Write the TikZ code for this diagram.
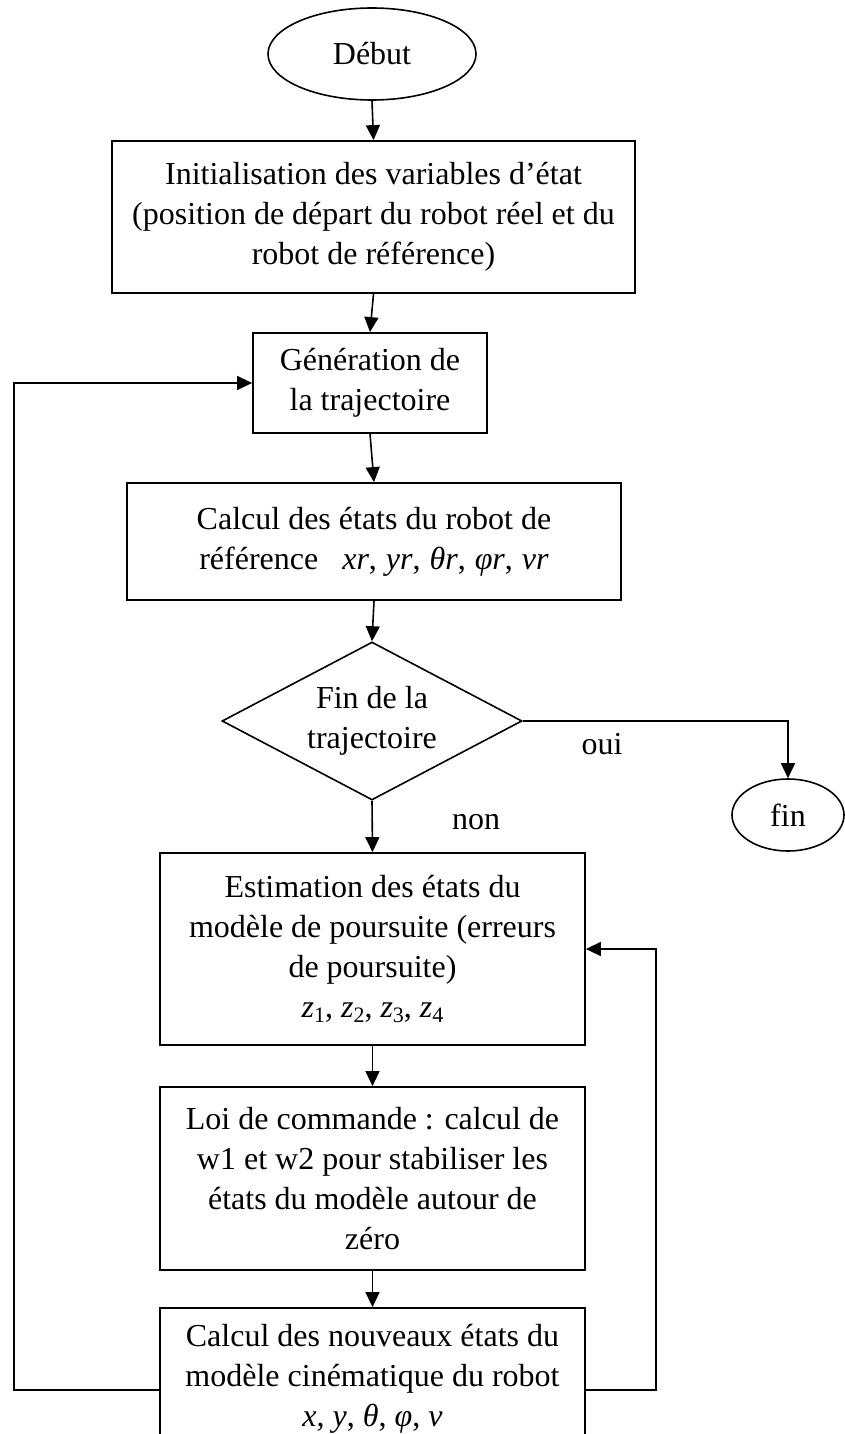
\documentclass[tikz,border=0pt]{standalone}
\usepackage{fontspec}
\setmainfont{Liberation Serif}
\usetikzlibrary{shapes.geometric,arrows.meta,calc}
\newcommand{\zsub}[2]{\textit{#1}\raisebox{-5pt}{\fontsize{22}{22}\selectfont #2}}
\begin{document}
\begin{tikzpicture}[x=1pt,y=-1pt,
  every node/.style={font=\fontsize{32}{40}\selectfont, align=center, inner sep=0pt},
  box/.style={draw, line width=1.8pt, rectangle},
  term/.style={draw, line width=1.6pt, ellipse},
  dec/.style={draw, line width=1.6pt, diamond, aspect=1.9},
  arr/.style={line width=1.6pt, -{Triangle[length=15pt,width=14pt]}}]
\clip (0,0) rectangle (845,1434);
\node[term, minimum width=208pt, minimum height=92pt] (debut) at (372,54) {Début};
\node[box, minimum width=523pt, minimum height=152pt] (init) at (373.5,217)
  {Initialisation des variables d’état\\(position de départ du robot réel et du\\robot de référence)};
\node[box, minimum width=234pt, minimum height=100pt] (gen) at (370,383)
  {Génération de\\la trajectoire};
\node[box, minimum width=494pt, minimum height=117pt] (calc) at (374,541.5)
  {Calcul des états du robot de\\référence\hspace{24pt}\textit{xr},\hspace{9pt}\textit{yr},\hspace{9pt}\textit{θr},\hspace{9pt}\textit{φr},\hspace{9pt}\textit{vr}};
\node[dec, minimum width=300pt, minimum height=158pt] (test) at (372,721)
  {Fin de la\\trajectoire};
\node[term, minimum width=112pt, minimum height=72pt] (fin) at (788,815) {fin};
\node (oui) at (602,744) {oui};
\node (non) at (476,822) {non};
\node[box, minimum width=425pt, minimum height=192pt] (est) at (372.5,949)
  {Estimation des états du\\modèle de poursuite (erreurs\\de poursuite)\\\zsub{z}{1},\hspace{8pt}\zsub{z}{2},\hspace{8pt}\zsub{z}{3},\hspace{8pt}\zsub{z}{4}};
\node[box, minimum width=425pt, minimum height=183pt] (loi) at (372.5,1178.5)
  {Loi de commande : calcul de\\w1 et w2 pour stabiliser les\\états du modèle autour de\\zéro};
\node[box, minimum width=425pt, minimum height=142pt] (nouv) at (372.5,1379)
  {Calcul des nouveaux états du\\modèle cinématique du robot\\\textit{x},\hspace{8pt}\textit{y},\hspace{8pt}\textit{θ},\hspace{8pt}\textit{φ},\hspace{8pt}\textit{v}};
\coordinate (L) at (14,1390);
\coordinate (R) at (656,1390);
\draw[arr] (debut.south) -- (init.north);
\draw[arr] (init.south) -- (gen.north);
\draw[arr] (gen.south) -- (calc.north);
\draw[arr] (calc.south) -- (test.north);
\draw[arr] (test.east) -| (fin.north);
\draw[arr] (test.south) -- (est.north);
\draw[arr] (est.south) -- (loi.north);
\draw[arr] (loi.south) -- (nouv.north);
\draw[arr] (nouv.west |- L) -- (L) |- (gen.west);
\draw[arr] (nouv.east |- R) -- (R) |- (est.east);
\end{tikzpicture}
\end{document}
